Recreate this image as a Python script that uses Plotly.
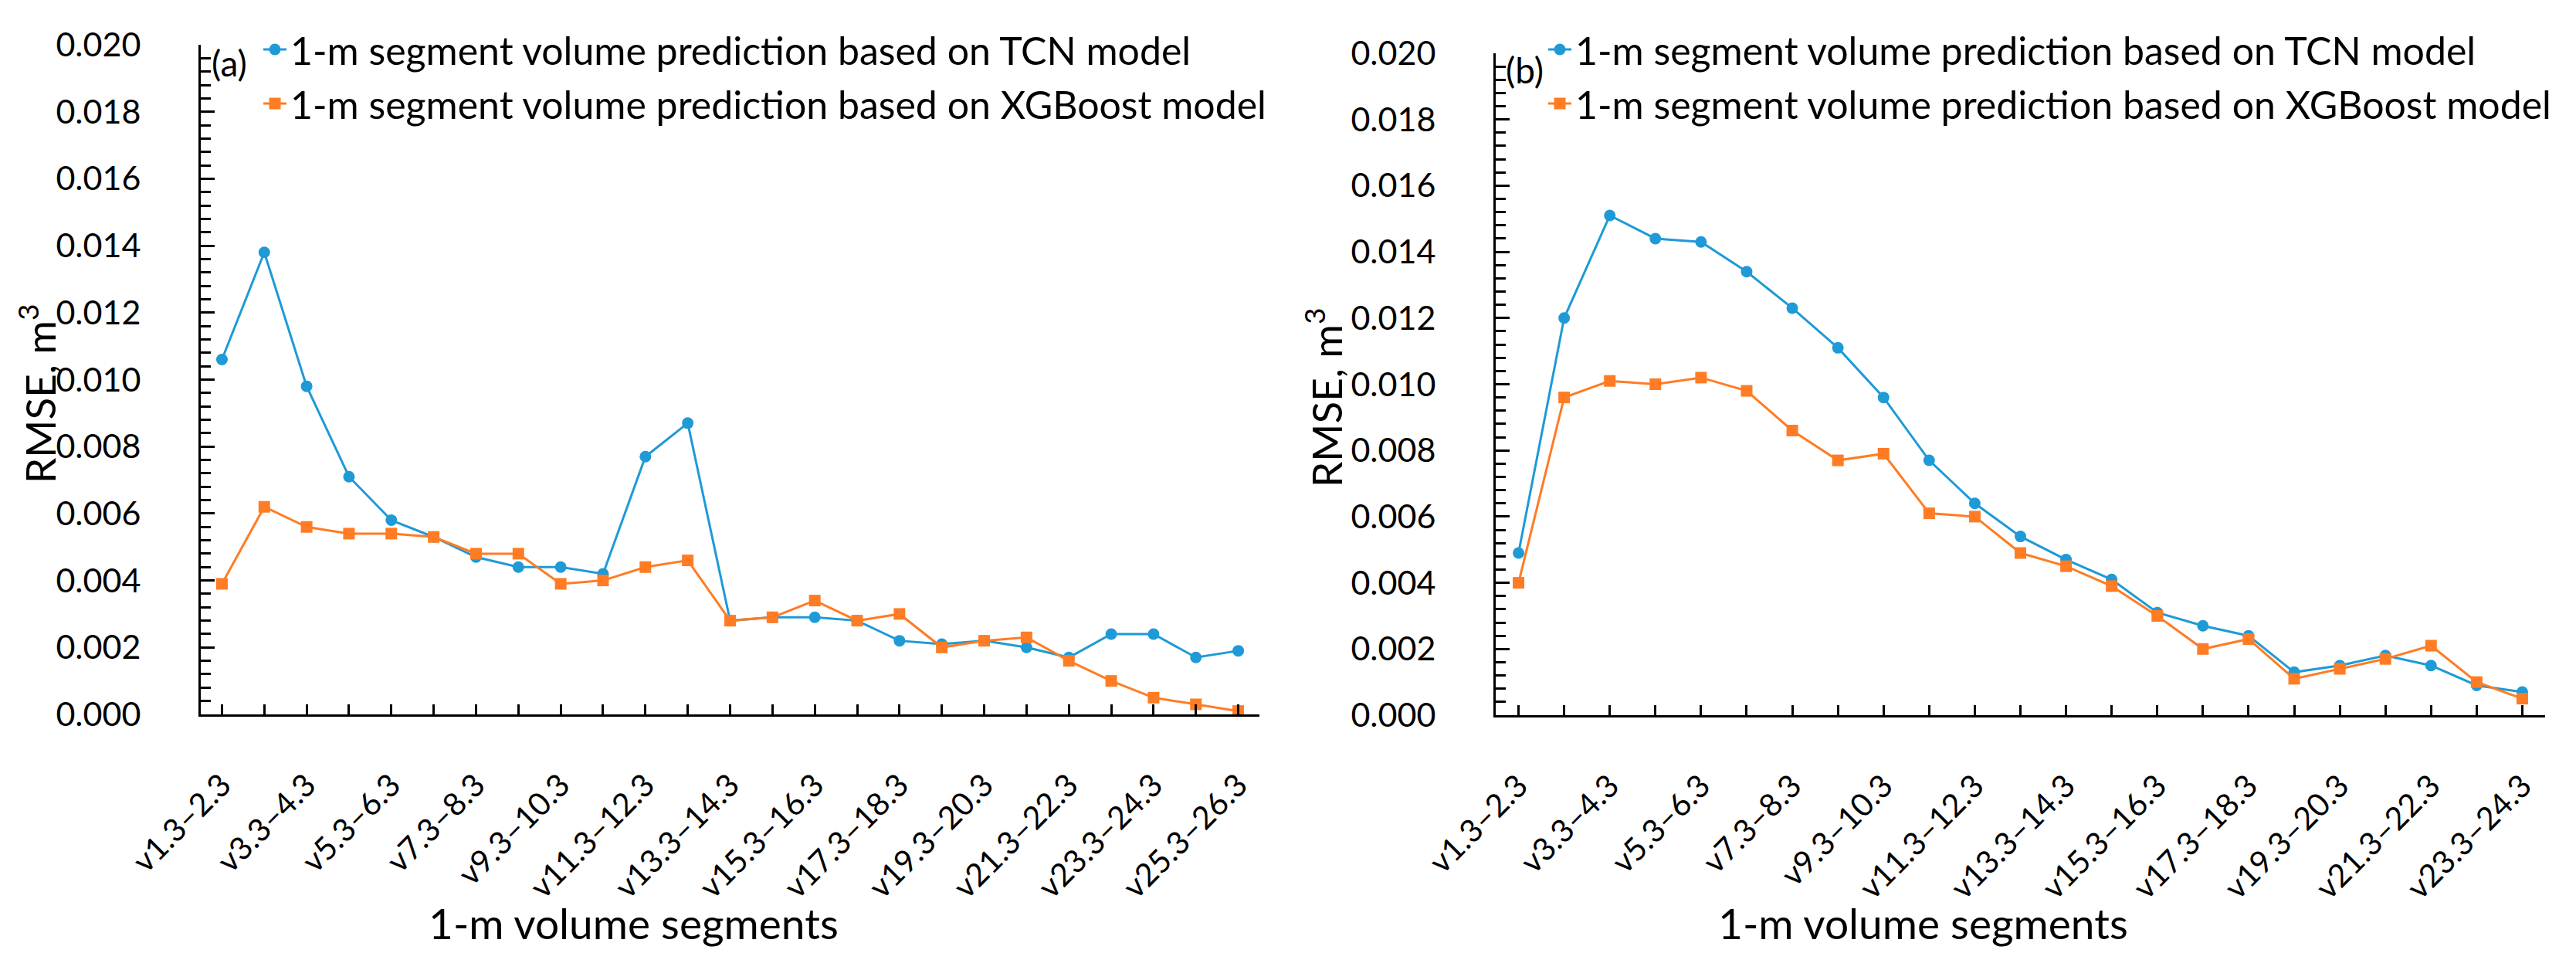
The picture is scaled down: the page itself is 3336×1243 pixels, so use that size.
import plotly.graph_objects as go

W, H = 3336, 1243

cats_a = ["v1.3–2.3", "v2.3–3.3", "v3.3–4.3", "v4.3–5.3", "v5.3–6.3", "v6.3–7.3",
          "v7.3–8.3", "v8.3–9.3", "v9.3–10.3", "v10.3–11.3", "v11.3–12.3", "v12.3–13.3",
          "v13.3–14.3", "v14.3–15.3", "v15.3–16.3", "v16.3–17.3", "v17.3–18.3", "v18.3–19.3",
          "v19.3–20.3", "v20.3–21.3", "v21.3–22.3", "v22.3–23.3", "v23.3–24.3", "v24.3–25.3",
          "v25.3–26.3"]
tcn_a = [0.0106, 0.0138, 0.0098, 0.0071, 0.0058, 0.0053, 0.0047, 0.0044, 0.0044, 0.0042,
         0.0077, 0.0087, 0.0028, 0.0029, 0.0029, 0.0028, 0.0022, 0.0021, 0.0022, 0.0020,
         0.0017, 0.0024, 0.0024, 0.0017, 0.0019]
xgb_a = [0.0039, 0.0062, 0.0056, 0.0054, 0.0054, 0.0053, 0.0048, 0.0048, 0.0039, 0.0040,
         0.0044, 0.0046, 0.0028, 0.0029, 0.0034, 0.0028, 0.0030, 0.0020, 0.0022, 0.0023,
         0.0016, 0.0010, 0.0005, 0.0003, 0.0001]

cats_b = ["v1.3–2.3", "v2.3–3.3", "v3.3–4.3", "v4.3–5.3", "v5.3–6.3", "v6.3–7.3",
          "v7.3–8.3", "v8.3–9.3", "v9.3–10.3", "v10.3–11.3", "v11.3–12.3", "v12.3–13.3",
          "v13.3–14.3", "v14.3–15.3", "v15.3–16.3", "v16.3–17.3", "v17.3–18.3", "v18.3–19.3",
          "v19.3–20.3", "v20.3–21.3", "v21.3–22.3", "v22.3–23.3", "v23.3–24.3"]
tcn_b = [0.0049, 0.0120, 0.0151, 0.0144, 0.0143, 0.0134, 0.0123, 0.0111, 0.0096, 0.0077,
         0.0064, 0.0054, 0.0047, 0.0041, 0.0031, 0.0027, 0.0024, 0.0013, 0.0015, 0.0018,
         0.0015, 0.0009, 0.0007]
xgb_b = [0.0040, 0.0096, 0.0101, 0.0100, 0.0102, 0.0098, 0.0086, 0.0077, 0.0079, 0.0061,
         0.0060, 0.0049, 0.0045, 0.0039, 0.0030, 0.0020, 0.0023, 0.0011, 0.0014, 0.0017,
         0.0021, 0.0010, 0.0005]

name_tcn = "1-m segment volume prediction based on TCN model"
name_xgb = "1-m segment volume prediction based on XGBoost model"
x_title = "1-m volume segments"
y_title = "RMSE, m<sup>3</sup>"

BLUE = "#1E9AD6"
ORANGE = "#FF7C24"
FONT = "Lato"
NB = "\u00a0"


def px_x(p):
    return p / W


def px_y(p):
    return (H - p) / H


fig = go.Figure()

for cats, tcn, xgb, xa, ya, lg in [(cats_a, tcn_a, xgb_a, "x", "y", "legend"),
                                    (cats_b, tcn_b, xgb_b, "x2", "y2", "legend2")]:
    fig.add_trace(go.Scatter(x=cats, y=tcn, name=name_tcn, mode="lines+markers",
                             line=dict(color=BLUE, width=3),
                             marker=dict(symbol="circle", size=15, color=BLUE),
                             xaxis=xa, yaxis=ya, legend=lg, legendgroup="tcn" + lg,
                             cliponaxis=False))
    fig.add_trace(go.Scatter(x=cats, y=xgb, name=name_xgb, mode="lines+markers",
                             line=dict(color=ORANGE, width=3),
                             marker=dict(symbol="square", size=15, color=ORANGE),
                             xaxis=xa, yaxis=ya, legend=lg, legendgroup="xgb" + lg,
                             cliponaxis=False))


def xaxis_cfg(cats, dom):
    return dict(domain=dom, type="category", range=[-0.5, len(cats) - 0.5],
                tickmode="array", tickvals=cats,
                ticktext=[c if i % 2 == 0 else " " for i, c in enumerate(cats)],
                tickangle=-45, ticks="inside", ticklen=13, tickwidth=3, tickcolor="black",
                showline=True, linewidth=3, linecolor="black", showgrid=False,
                zeroline=False, automargin=False, ticklabelstandoff=48,
                tickfont=dict(family=FONT, size=41, color="black"))


def yaxis_cfg(dom, anchor):
    return dict(domain=dom, anchor=anchor, range=[0, 0.020], tickmode="linear", tick0=0,
                dtick=0.002, tickformat=".3f", ticksuffix=NB * 6,
                ticks="inside", ticklen=18, tickwidth=3,
                tickcolor="black", showline=True, linewidth=3, linecolor="black",
                showgrid=False, zeroline=False, automargin=False,
                tickfont=dict(family=FONT, size=43, color="black"),
                minor=dict(dtick=0.0004, ticks="inside", ticklen=13, tickwidth=3,
                           tickcolor="black", showgrid=False))


fig.update_layout(
    template="none",
    width=W, height=H,
    margin=dict(l=0, r=0, t=0, b=0, pad=0),
    paper_bgcolor="white", plot_bgcolor="white",
    font=dict(family=FONT, color="black"),
    xaxis=dict(**xaxis_cfg(cats_a, [px_x(260), px_x(1631)]), anchor="y"),
    yaxis=yaxis_cfg([px_y(925), px_y(58)], "x"),
    xaxis2=dict(**xaxis_cfg(cats_b, [px_x(1937), px_x(3296)]), anchor="y2"),
    yaxis2=yaxis_cfg([px_y(926), px_y(69)], "x2"),
    showlegend=True,
    legend=dict(x=px_x(336), y=px_y(25), xanchor="left", yanchor="top",
                font=dict(family=FONT, size=50, color="black"),
                bgcolor="rgba(0,0,0,0)", tracegroupgap=2),
    legend2=dict(x=px_x(2000), y=px_y(25), xanchor="left", yanchor="top",
                 font=dict(family=FONT, size=50, color="black"),
                 bgcolor="rgba(0,0,0,0)", tracegroupgap=2),
    annotations=[
        dict(text="(a)", x=px_x(272), y=px_y(82), xref="paper", yref="paper",
             xanchor="left", yanchor="middle", showarrow=False,
             font=dict(family=FONT, size=46, color="black")),
        dict(text="(b)", x=px_x(1948), y=px_y(90), xref="paper", yref="paper",
             xanchor="left", yanchor="middle", showarrow=False,
             font=dict(family=FONT, size=46, color="black")),
        dict(text=y_title, x=px_x(48), y=px_y(510), xref="paper", yref="paper",
             xanchor="center", yanchor="middle", textangle=-90, showarrow=False,
             font=dict(family=FONT, size=53, color="black")),
        dict(text=y_title, x=px_x(1714), y=px_y(515), xref="paper", yref="paper",
             xanchor="center", yanchor="middle", textangle=-90, showarrow=False,
             font=dict(family=FONT, size=53, color="black")),
        dict(text=x_title, x=px_x(820), y=px_y(1195), xref="paper", yref="paper",
             xanchor="center", yanchor="middle", showarrow=False,
             font=dict(family=FONT, size=55, color="black")),
        dict(text=x_title, x=px_x(2490), y=px_y(1195), xref="paper", yref="paper",
             xanchor="center", yanchor="middle", showarrow=False,
             font=dict(family=FONT, size=55, color="black")),
    ],
)

fig.write_html("out.html", config={"displayModeBar": False},
               post_script="document.body.style.margin='0';")
